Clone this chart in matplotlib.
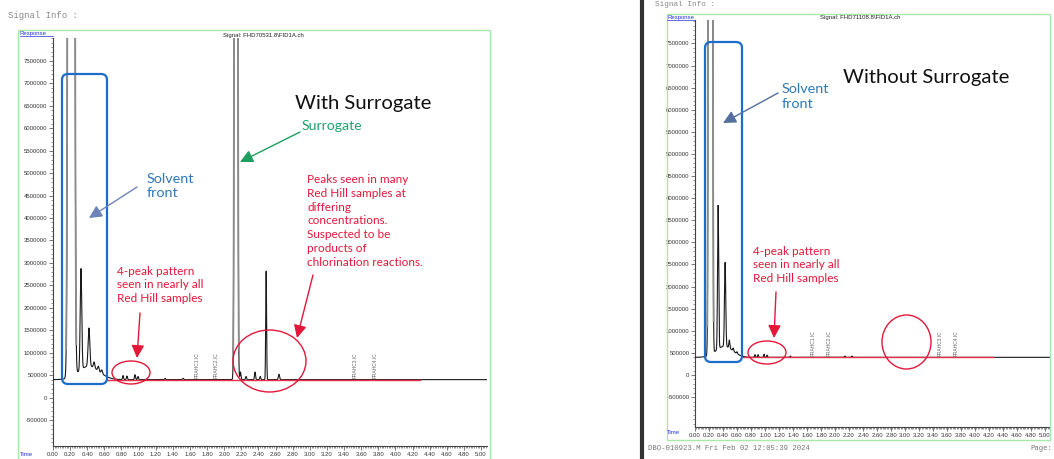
import numpy as np
import matplotlib
matplotlib.use("Agg")
import matplotlib.pyplot as plt
import matplotlib.transforms as mtransforms
from matplotlib.patches import FancyBboxPatch, Ellipse, FancyArrowPatch, Rectangle
from matplotlib.lines import Line2D
from matplotlib.ticker import MultipleLocator

plt.rcParams["font.family"] = ["Liberation Sans", "DejaVu Sans"]

W, H = 1054, 459

# ---------------- data ----------------
baseline = 400000
time_max = 5.07

# Left chromatogram (with surrogate): off-scale peaks (solvent, surrogate)
left_big_rt = [0.213, 2.138]
left_big_height = [3.0e8, 9.0e7]
left_big_sigma = [0.017, 0.0105]
# Left chromatogram: on-scale peaks (heights above baseline)
left_rt = [0.42, 0.327, 0.42, 0.48, 0.53, 0.57,
           0.818, 0.864, 0.958, 0.993, 1.31, 1.52,
           2.19, 2.255, 2.36, 2.42, 2.49, 2.64]
left_height = [300000, 2250000, 850000, 130000, 100000, 80000,
               90000, 80000, 110000, 70000, 30000, 30000,
               170000, 70000, 170000, 70000, 2420000, 120000]
left_sigma = [0.12, 0.009, 0.010, 0.008, 0.008, 0.008,
              0.006, 0.006, 0.006, 0.006, 0.006, 0.006,
              0.006, 0.006, 0.006, 0.006, 0.005, 0.007]
left_int_start, left_int_end = 0.63, 4.29
left_label_rt = [1.68, 1.90, 3.53, 3.76]

# Right chromatogram (without surrogate)
right_big_rt = [0.221]
right_big_height = [3.0e8]
right_big_sigma = [0.013]
right_rt = [0.42, 0.33, 0.43, 0.49, 0.545, 0.60,
            0.857, 0.90, 0.986, 1.03, 1.36, 2.14, 2.24]
right_height = [250000, 3250000, 1900000, 180000, 65000, 45000,
                60000, 60000, 70000, 50000, 30000, 30000, 30000]
right_sigma = [0.12, 0.008, 0.009, 0.007, 0.007, 0.007,
               0.006, 0.006, 0.006, 0.006, 0.006, 0.006, 0.006]
right_int_start, right_int_end = 0.69, 4.26
right_label_rt = [1.69, 1.91, 3.50, 3.73]

compound_labels = ["FRAHC1.IC", "FRAHC2.IC", "FRAHC3.IC", "FRAHC4.IC"]

ytick_values = list(range(-500000, 8000000, 500000))
xtick_values = [round(0.2 * i, 2) for i in range(26)]
xtick_labels = ["%.2f" % v for v in xtick_values]

# ---------------- figure ----------------
fig = plt.figure(figsize=(W / 100, H / 100), dpi=100)
T = mtransforms.Affine2D().scale(1.0 / W, -1.0 / H).translate(0, 1) + fig.transFigure


def add_axes_px(x0, y0, x1, y1):
    return fig.add_axes([x0 / W, 1 - y1 / H, (x1 - x0) / W, (y1 - y0) / H])


def gauss_sum(t, rts, hs, sgs):
    y = np.zeros_like(t)
    for r, h, s in zip(rts, hs, sgs):
        y += h * np.exp(-0.5 * ((t - r) / s) ** 2)
    return y


def style_axes(ax, ylim):
    ax.set_xlim(0, time_max)
    ax.set_ylim(*ylim)
    for s in ["top", "right"]:
        ax.spines[s].set_visible(False)
    for s in ["left", "bottom"]:
        ax.spines[s].set_color("#444444")
        ax.spines[s].set_linewidth(0.8)
    ax.set_xticks(xtick_values)
    ax.set_xticklabels(xtick_labels)
    ax.xaxis.set_minor_locator(MultipleLocator(0.02))
    ax.set_yticks(ytick_values)
    ax.set_yticklabels([str(v) for v in ytick_values])
    ax.yaxis.set_minor_locator(MultipleLocator(100000))
    ax.tick_params(which="major", labelsize=4.3, length=3, width=0.5, pad=1,
                   colors="#444444", labelcolor="#333333")
    ax.tick_params(which="minor", length=1.6, width=0.4, colors="#444444")
    ax.patch.set_alpha(0)


def draw_trace(ax, big_rt, big_h, big_s, rt, h, s, i0, i1, lab_rt):
    t = np.linspace(0, time_max, 8000)
    big = gauss_sum(t, big_rt, big_h, big_s)
    small = gauss_sum(t, rt, h, s)
    sig = baseline + big + small
    ax.plot(t, sig, color="#1a1a1a", lw=0.8, zorder=3)
    tall = np.where(big > 600000, sig, np.nan)
    ax.plot(t, tall, color="#8c8c8c", lw=1.3, zorder=4)
    ax.plot([i0, i1], [baseline, baseline], color="#E8304A", lw=1.0, zorder=5)
    for r, lab in zip(lab_rt, compound_labels):
        ax.text(r, baseline + 40000, lab, rotation=90, fontsize=3.5,
                color="#666666", ha="center", va="bottom", zorder=6)


axL = add_axes_px(53, 38, 487, 446)
style_axes(axL, (-1.078e6, 8.009e6))
draw_trace(axL, left_big_rt, left_big_height, left_big_sigma,
           left_rt, left_height, left_sigma, left_int_start, left_int_end, left_label_rt)

axR = add_axes_px(695, 20, 1050, 427)
style_axes(axR, (-1.176e6, 8.03e6))
draw_trace(axR, right_big_rt, right_big_height, right_big_sigma,
           right_rt, right_height, right_sigma, right_int_start, right_int_end, right_label_rt)

# ---------------- page decorations ----------------
green = "#A8E8A8"
fig.add_artist(Rectangle((18, 30), 472, 460, transform=T, fill=False, ec=green, lw=1.0))
fig.add_artist(Rectangle((667, 14), 383, 426, transform=T, fill=False, ec=green, lw=1.0))
fig.add_artist(Line2D([642, 642], [2, 459], transform=T, color="#333333", lw=3.0))

mono = ["Liberation Mono", "DejaVu Sans Mono"]
fig.text(8, 16, "Signal Info :", transform=T, fontsize=6.5, family=mono,
         color="#888888", va="center", ha="left")
fig.text(655, 4, "Signal Info :", transform=T, fontsize=5.6, family=mono,
         color="#888888", va="center", ha="left")
fig.text(648, 448, "DBO-010923.M Fri Feb 02 12:05:39 2024", transform=T, fontsize=5.2,
         family=mono, color="#777777", va="center", ha="left")
fig.text(1030, 448, "Page:", transform=T, fontsize=5.2, family=mono,
         color="#777777", va="center", ha="left")

blue_lab = "#2233DD"
for (x, y, x1) in [(20, 33, 53), (667, 17, 695)]:
    fig.text(x, y, "Response", transform=T, fontsize=4.3, color=blue_lab,
             va="center", ha="left")
    fig.add_artist(Line2D([x, x1], [y + 3, y + 3], transform=T, color=blue_lab, lw=0.5))
fig.text(20, 455, "Time", transform=T, fontsize=4.3, color=blue_lab, va="center", ha="left")
fig.text(667, 433, "Time", transform=T, fontsize=4.3, color=blue_lab, va="center", ha="left")
fig.text(223, 35, "Signal: FHD70531.8\\FID1A.ch", transform=T, fontsize=4.3,
         color="#222222", va="center", ha="left")
fig.text(820, 17, "Signal: FHD71108.8\\FID1A.ch", transform=T, fontsize=4.3,
         color="#222222", va="center", ha="left")

# ---------------- annotations ----------------
ann = ["Lato", "DejaVu Sans"]
red = "#E4173A"
boxblue = "#1C6DC9"
txtblue = "#2E78B8"


def arrow(p0, p1, color, lw=1.0, ms=11):
    fig.add_artist(FancyArrowPatch(p0, p1, transform=T, color=color, lw=lw,
                                   arrowstyle="-|>,head_length=0.7,head_width=0.35",
                                   mutation_scale=ms, shrinkA=0, shrinkB=0))


# left panel
fig.add_artist(FancyBboxPatch((62, 74), 45, 310, boxstyle="round,pad=0,rounding_size=6",
                              transform=T, fill=False, ec=boxblue, lw=1.6))
fig.text(147, 186, "Solvent\nfront", transform=T, fontsize=10.4, family=ann,
         color=txtblue, va="center", ha="left", linespacing=1.25)
arrow((137, 187), (89, 218), "#6D84B8")
fig.text(295, 103, "With Surrogate", transform=T, fontsize=14.6, family=ann,
         color="#111111", va="center", ha="left")
fig.text(302, 126, "Surrogate", transform=T, fontsize=10.2, family=ann,
         color="#1FA36E", va="center", ha="left")
arrow((300, 132), (240, 162), "#1E9E5E")
fig.text(307, 221, "Peaks seen in many\nRed Hill samples at\ndiffering\nconcentrations.\n"
         "Suspected to be\nproducts of\nchlorination reactions.", transform=T,
         fontsize=8.5, family=ann, color=red, va="center", ha="left", linespacing=1.3)
arrow((313, 275), (297, 338), red)
fig.add_artist(Ellipse((269.5, 361), 73, 62, transform=T, fill=False, ec=red, lw=1.0))
fig.text(117, 285, "4-peak pattern\nseen in nearly all\nRed Hill samples", transform=T,
         fontsize=8.5, family=ann, color=red, va="center", ha="left", linespacing=1.3)
arrow((140, 313), (137, 358), red)
fig.add_artist(Ellipse((131, 372.5), 38, 23, transform=T, fill=False, ec=red, lw=1.0))

# right panel
fig.add_artist(FancyBboxPatch((705, 42), 37, 320, boxstyle="round,pad=0,rounding_size=6",
                              transform=T, fill=False, ec=boxblue, lw=1.6))
fig.text(782, 96.5, "Solvent\nfront", transform=T, fontsize=10.4, family=ann,
         color=txtblue, va="center", ha="left", linespacing=1.25)
arrow((778, 93), (723, 123), "#55709F")
fig.text(843, 78, "Without Surrogate", transform=T, fontsize=14.6, family=ann,
         color="#111111", va="center", ha="left")
fig.text(753, 265, "4-peak pattern\nseen in nearly all\nRed Hill samples", transform=T,
         fontsize=8.5, family=ann, color=red, va="center", ha="left", linespacing=1.3)
arrow((776, 292), (774, 338), red)
fig.add_artist(Ellipse((767, 352.5), 38, 23, transform=T, fill=False, ec=red, lw=1.0))
fig.add_artist(Ellipse((906.5, 342), 49, 54, transform=T, fill=False, ec=red, lw=1.0))

fig.savefig("out.png", dpi=100)
